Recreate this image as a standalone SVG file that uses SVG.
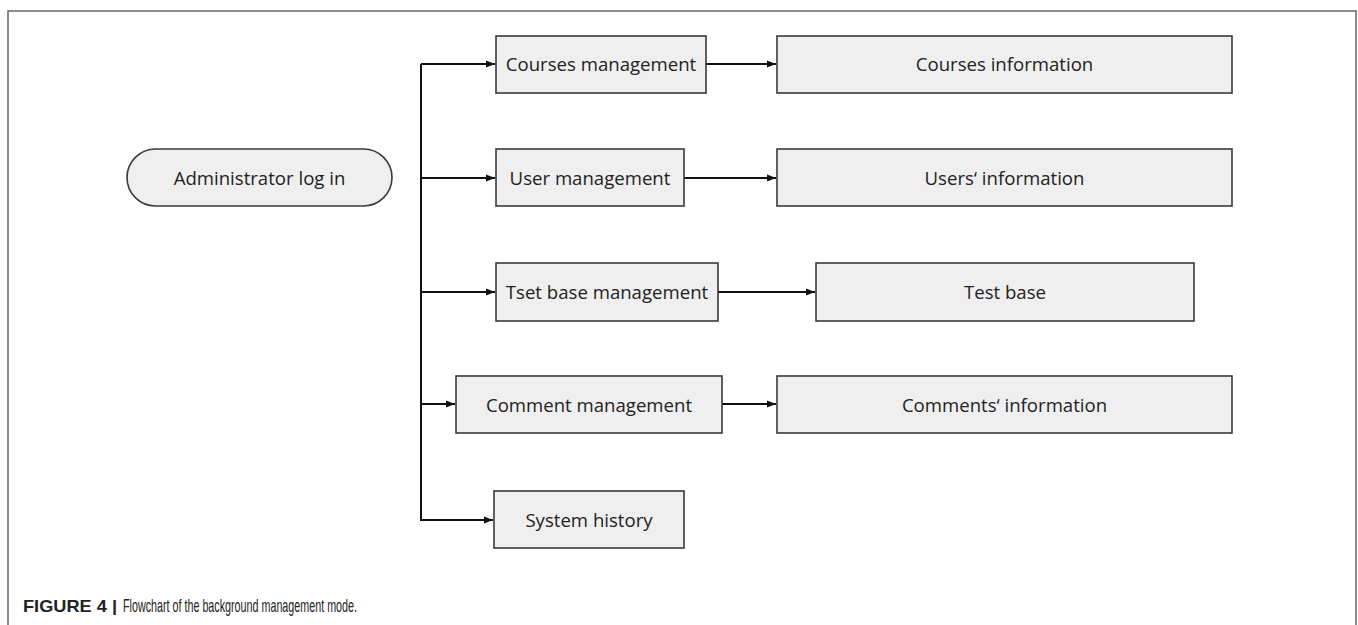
<svg xmlns="http://www.w3.org/2000/svg" width="1358" height="625" viewBox="0 0 1358 625">
<style>
.box{fill:#efefef;stroke:#3a3a3a;stroke-width:1.6}
.lbl{font-family:"Open Sans","Noto Sans",sans-serif;font-size:18.6px;fill:#222;text-anchor:middle;dominant-baseline:central}
.ln{fill:none;stroke:#111;stroke-width:2}
.cap{font-family:"Liberation Sans",Arial,sans-serif;font-size:17px;fill:#222}
</style>
<defs>
<marker id="ah" markerWidth="9" markerHeight="8" refX="9" refY="4" orient="auto" markerUnits="userSpaceOnUse">
<path d="M0,0.5 L9,4 L0,7.5 Z" fill="#111"/>
</marker>
</defs>
<rect x="0" y="0" width="1358" height="625" fill="#fff"/>
<rect x="8" y="11" width="1348" height="640" fill="none" stroke="#666" stroke-width="1.5"/>

<g id="connectors">
<path class="ln" d="M421,64 V520"/>
<path class="ln" d="M421,64 H495" marker-end="url(#ah)"/>
<path class="ln" d="M421,178 H495" marker-end="url(#ah)"/>
<path class="ln" d="M421,292 H495" marker-end="url(#ah)"/>
<path class="ln" d="M421,404 H455" marker-end="url(#ah)"/>
<path class="ln" d="M420,520 H493" marker-end="url(#ah)"/>
<path class="ln" d="M706,64 H776" marker-end="url(#ah)"/>
<path class="ln" d="M684,178 H776" marker-end="url(#ah)"/>
<path class="ln" d="M718,292 H815" marker-end="url(#ah)"/>
<path class="ln" d="M722,404 H776" marker-end="url(#ah)"/>
</g>

<g id="admin-login">
<rect class="box" x="127" y="149" width="265" height="57" rx="28.5"/>
<text class="lbl" x="259.5" y="177">Administrator log in</text>
</g>
<g id="courses-management">
<rect class="box" x="496" y="36" width="210" height="57"/>
<text class="lbl" x="601" y="63.5">Courses management</text>
</g>
<g id="courses-information">
<rect class="box" x="777" y="36" width="455" height="57"/>
<text class="lbl" x="1004.5" y="63.5">Courses information</text>
</g>
<g id="user-management">
<rect class="box" x="496" y="149" width="188" height="57"/>
<text class="lbl" x="590" y="177.5">User management</text>
</g>
<g id="users-information">
<rect class="box" x="777" y="149" width="455" height="57"/>
<text class="lbl" x="1004.5" y="177.5">Users‘ information</text>
</g>
<g id="test-base-management">
<rect class="box" x="496" y="263" width="222" height="58"/>
<text class="lbl" x="607" y="291.5">Tset base management</text>
</g>
<g id="test-base">
<rect class="box" x="816" y="263" width="378" height="58"/>
<text class="lbl" x="1005" y="291.5">Test base</text>
</g>
<g id="comment-management">
<rect class="box" x="456" y="376" width="266" height="57"/>
<text class="lbl" x="589" y="404.5">Comment management</text>
</g>
<g id="comments-information">
<rect class="box" x="777" y="376" width="455" height="57"/>
<text class="lbl" x="1004.5" y="404.5">Comments‘ information</text>
</g>
<g id="system-history">
<rect class="box" x="494" y="491" width="190" height="57"/>
<text class="lbl" x="589" y="519.5">System history</text>
</g>

<text class="cap" x="23" y="612"><tspan font-weight="bold" textLength="94" lengthAdjust="spacingAndGlyphs">FIGURE 4 |</tspan><tspan x="123" font-size="18.5" textLength="234" lengthAdjust="spacingAndGlyphs">Flowchart of the background management mode.</tspan></text>
</svg>
